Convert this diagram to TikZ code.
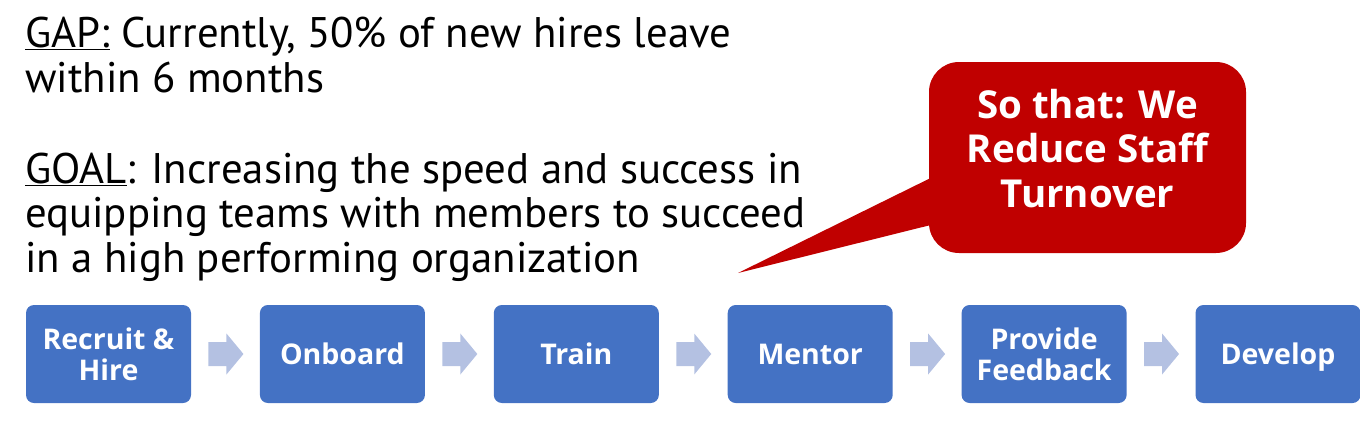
\documentclass[tikz,border=0pt]{standalone}
\usepackage{fontspec}
\setmainfont{PT Sans}
\newfontfamily\boldsans{Open Sans}
\usetikzlibrary{positioning,calc}
\definecolor{stepblue}{HTML}{4472C4}
\definecolor{arrowgrey}{HTML}{B4C1E2}
\definecolor{calloutred}{HTML}{C00000}

\begin{document}
\begin{tikzpicture}[x = 1pt, y = -1pt, line join = round,
    stepbox/.style = {fill = stepblue, rounded corners = 8pt, minimum width = 165pt, minimum height = 98pt, text depth = 0pt,
        inner sep = 0pt, align = center, text = white, font = \boldsans\bfseries\fontsize{28.5}{31}\selectfont},
    chevron/.style = {fill = arrowgrey},
    bubble/.style = {fill = calloutred, rounded corners = 30pt, minimum width = 317pt, minimum height = 191pt, inner sep = 0pt},
    bubbletext/.style = {inner sep = 0pt, align = center, text = white, font = \boldsans\bfseries\fontsize{38.5}{44.5}\selectfont},
    plaintext/.style = {anchor = base west, inner sep = 0pt, align = left, font = \fontsize{42.8}{44.5}\selectfont}]
        %
        \useasboundingbox (0, 0) rectangle (1360, 447);
        \def\Gap{68.5pt}

        % gap and goal (anchored on the last line)
        \node [plaintext] (gap) at (25, 92) {\underline{GAP:} Currently, 50\% of new hires leave\\within 6 months};
        \node [plaintext] (goal) at (25, 272) {\underline{GOAL}: Increasing the speed and success in\\equipping teams with members to succeed\\in a high performing organization};

        % process steps
        \node [stepbox] (recruit) at (108.5, 354) {Recruit \&\\Hire};
        \foreach \name/\prev/\txt in {onboard/recruit/Onboard, train/onboard/Train, mentor/train/Mentor,
            feedback/mentor/Provide\\Feedback, develop/feedback/Develop}
        {
            \node [stepbox, right = \Gap of \prev] (\name) {\txt};
        }

        % block arrows between the steps
        \foreach \from/\to in {recruit/onboard, onboard/train, train/mentor, mentor/feedback, feedback/develop}
        {
            \coordinate (m) at ($(\from.east)!0.5!(\to.west)$);
            \fill [chevron] ($(m) + (-17, -12)$) -- ++(18, 0) -- ++(0, -8.5) -- ++(17, 20.5)
                -- ++(-17, 20.5) -- ++(0, -8.5) -- ++(-18, 0) -- cycle;
        }

        % callout
        \node [bubble] (result) at (1087.5, 157.5) {};
        \node [bubbletext] (resulttext) at ($(result.center) + (0, -9)$) {So that: We\\Reduce Staff\\Turnover};
        \coordinate (tip) at (738, 273);
        \fill [calloutred] ($(result.west) + (12, 15.5)$) -- (tip) -- ($(result.west) + (12, 65)$) -- cycle;
    \end{tikzpicture}
\end{document}
